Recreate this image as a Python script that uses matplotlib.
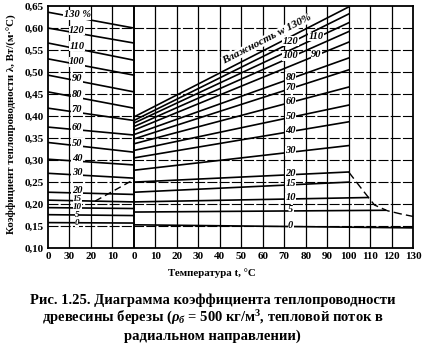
import matplotlib
matplotlib.use("Agg")
import matplotlib.pyplot as plt
import numpy as np

plt.rcParams['font.family'] = ['Liberation Serif', 'DejaVu Serif']
plt.rcParams['mathtext.fontset'] = 'custom'
plt.rcParams['mathtext.rm'] = 'Liberation Serif:bold'
plt.rcParams['mathtext.it'] = 'Liberation Serif:italic:bold'
plt.rcParams['mathtext.bf'] = 'Liberation Serif:bold'

# влажность, %
moisture = [130, 120, 110, 100, 90, 80, 70, 60, 50, 40, 30, 20, 15, 10, 5, 0]

# мерзлая древесина: λ при -40 и 0 °C
frozen_t = [-40, 0]
frozen_at_m40 = [0.636, 0.600, 0.566, 0.530, 0.493, 0.455, 0.418, 0.375,
                 0.340, 0.302, 0.270, 0.227, 0.209, 0.192, 0.176, 0.158]
frozen_at_0 = [0.600, 0.566, 0.527, 0.493, 0.455, 0.418, 0.390, 0.357,
               0.318, 0.289, 0.259, 0.222, 0.205, 0.190, 0.174, 0.157]

# талая древесина: λ при 0 °C и в конце линии
warm_at_0 = [0.398, 0.390, 0.384, 0.376, 0.368, 0.358, 0.348, 0.337,
             0.322, 0.305, 0.277, 0.250, 0.227, 0.205, 0.182, 0.153]
warm_at_end = [0.648, 0.632, 0.612, 0.592, 0.568, 0.532, 0.505, 0.466,
               0.425, 0.387, 0.333, 0.273, 0.250, 0.215, 0.186, 0.146]
warm_end_t = [100] * 13 + [109, 117, 130]

# штриховые кривые
thaw_t = [-18, 0]
thaw_lam = [0.207, 0.256]
boil_t = [100, 106, 112, 118, 124, 130]
boil_lam = [0.273, 0.235, 0.198, 0.185, 0.178, 0.172]

# положение подписей 15, 10, 5, 0 слева (λ)
small_label_lam = [0.211, 0.194, 0.176, 0.156]

xticks = list(range(-40, 131, 10))
xtick_labels = ["0", "30", "20", "10"] + [str(t) for t in range(0, 131, 10)]
yticks = [0.10, 0.15, 0.20, 0.25, 0.30, 0.35, 0.40, 0.45, 0.50, 0.55, 0.60, 0.65]

fig = plt.figure(figsize=(4.25, 3.56), dpi=100)
ax = fig.add_axes([0.113, 0.303, 0.859, 0.680])
ax.set_xlim(-40, 130)
ax.set_ylim(0.10, 0.65)

# сетка
for t in xticks[1:-1]:
    ax.axvline(t, color="black", lw=1.4 if t == 0 else 0.9, zorder=1)
for y in yticks[1:-1]:
    ax.axhline(y, color="black", lw=0.8, linestyle=(0, (9, 2)), zorder=1)

lw = 1.2
for i, w in enumerate(moisture):
    ax.plot(frozen_t, [frozen_at_m40[i], frozen_at_0[i]], color="black", lw=lw, zorder=2)
    ax.plot([0, warm_end_t[i]], [warm_at_0[i], warm_at_end[i]], color="black", lw=lw, zorder=2)

ax.plot(thaw_t, thaw_lam, color="black", lw=1.0, linestyle=(0, (5, 3)), zorder=2)
ax.plot(boil_t, boil_lam, color="black", lw=1.0, linestyle=(0, (6, 3)), zorder=2)

box = dict(facecolor="white", edgecolor="none", pad=0.3)
small_box = dict(facecolor="white", edgecolor="none", pad=0.0)

# подписи слева
t_left = -26.5
for i, w in enumerate(moisture):
    if w in (15, 10, 5, 0):
        ax.text(t_left, small_label_lam[moisture.index(w) - 12], str(w), fontsize=6.5,
                style="italic", weight="bold", ha="center", va="center",
                bbox=small_box, zorder=3)
        continue
    lam = np.interp(t_left, frozen_t, [frozen_at_m40[i], frozen_at_0[i]])
    txt = f"{w} %" if w == 130 else str(w)
    ax.text(t_left, lam + 0.006, txt, fontsize=7.5, style="italic", weight="bold",
            ha="center", va="center", bbox=box, zorder=3)

# подписи справа
for i, w in enumerate(moisture):
    if w == 130:
        continue
    t_lab = 85 if w in (110, 90) else 73
    lam = np.interp(t_lab, [0, warm_end_t[i]], [warm_at_0[i], warm_at_end[i]])
    ax.text(t_lab, lam + 0.003, str(w), fontsize=7.5, style="italic", weight="bold",
            ha="center", va="center", bbox=box, zorder=3)

# надпись вдоль линии 130 %
p0 = ax.transData.transform((0, warm_at_0[0]))
p1 = ax.transData.transform((100, warm_at_end[0]))
ang = np.degrees(np.arctan2(p1[1] - p0[1], p1[0] - p0[0]))
t_w = 63
lam_w = np.interp(t_w, [0, 100], [warm_at_0[0], warm_at_end[0]])
ax.text(t_w, lam_w + 0.010, "Влажность w 130%", fontsize=8, style="italic",
        weight="bold", rotation=ang, rotation_mode="anchor", ha="center",
        va="bottom", bbox=box, zorder=3)

ax.set_xticks(xticks)
ax.set_xticklabels(xtick_labels)
ax.set_yticks(yticks)
ax.set_yticklabels([f"{y:.2f}".replace(".", ",") for y in yticks])
ax.tick_params(length=0, pad=3, labelsize=8)
for lab in ax.get_xticklabels() + ax.get_yticklabels():
    lab.set_fontweight("bold")
for sp in ax.spines.values():
    sp.set_linewidth(1.3)

fig.text(0.028, 0.652, "Коэффициент теплопроводности λ, Вт/(м·°С)", rotation=90,
         ha="center", va="center", fontsize=7.8, weight="bold")
fig.text(0.499, 0.233, "Температура t, °С", ha="center", va="center",
         fontsize=7.8, weight="bold")

cap = dict(ha="center", va="center", fontsize=10.5, weight="bold")
fig.text(0.5, 0.157, "Рис. 1.25. Диаграмма коэффициента теплопроводности", **cap)
fig.text(0.5, 0.107, r"древесины березы ($\rho_{б}$ = 500 кг/м$^{3}$, тепловой поток в", **cap)
fig.text(0.5, 0.056, "радиальном направлении)", **cap)

fig.savefig("out.png", dpi=100)
